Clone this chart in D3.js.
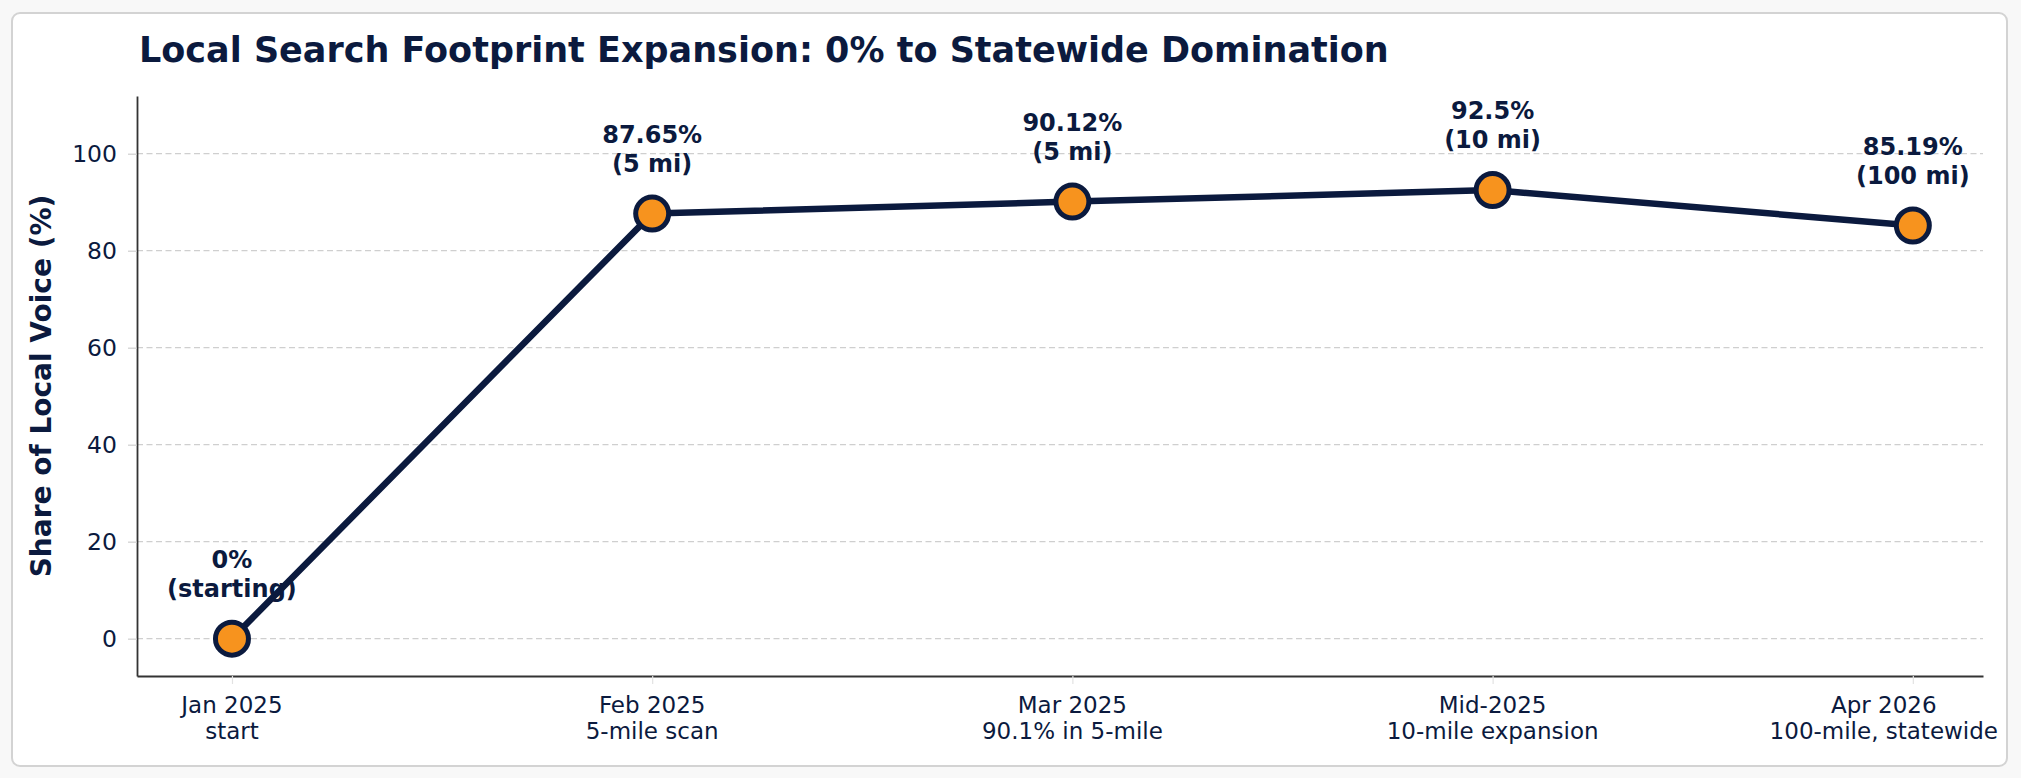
<!DOCTYPE html>
<html>
<head>
<meta charset="utf-8">
<script src="https://cdn.jsdelivr.net/npm/d3@7"></script>
<style>
body { margin: 0; background: #f8f8f8; }
text { font-family: "DejaVu Sans", sans-serif; }
</style>
</head>
<body>
<main></main>
<script>
var months = ["Jan 2025", "Feb 2025", "Mar 2025", "Mid-2025", "Apr 2026"];
var notes = ["start", "5-mile scan", "90.1% in 5-mile", "10-mile expansion", "100-mile, statewide"];
var share = [0, 87.65, 90.12, 92.5, 85.19];
var radiusLabel = ["starting", "5 mi", "5 mi", "10 mi", "100 mi"];
var yTicks = [0, 20, 40, 60, 80, 100];

var width = 2021;
var height = 778;
var navy = "#0b1a3e";
var orange = "#f7931e";

var svg = d3.select("main").append("svg")
    .attr("width", width)
    .attr("height", height)
    .style("display", "block");

// card
svg.append("rect")
    .attr("x", 12).attr("y", 13)
    .attr("width", 1995).attr("height", 753)
    .attr("rx", 8)
    .style("fill", "#fff")
    .style("stroke", "#d3d3d3")
    .style("stroke-width", 2);

svg.append("text")
    .attr("x", 139)
    .attr("y", 62)
    .style("font-size", "35px")
    .style("font-weight", "bold")
    .style("fill", navy)
    .text("Local Search Footprint Expansion: 0% to Statewide Domination");

var x = d3.scaleLinear().domain([-0.226, 4.167]).range([137, 1983]);
var y = d3.scaleLinear().domain([-7.7, 111.9]).range([676, 96]);

// grid
svg.append("g")
    .selectAll("line")
    .data(yTicks)
    .enter().append("line")
    .attr("x1", x.range()[0])
    .attr("x2", x.range()[1])
    .attr("y1", function(d) { return y(d); })
    .attr("y2", function(d) { return y(d); })
    .style("stroke", "#cfcfcf")
    .style("stroke-width", 1.2)
    .style("stroke-dasharray", "6,3.5");

var yAxis = svg.append("g")
    .attr("transform", "translate(137,0)")
    .call(d3.axisLeft(y).tickValues(yTicks).tickSize(9).tickSizeOuter(0).tickPadding(11));
yAxis.select(".domain").style("stroke", "#333").style("stroke-width", 1.8);
yAxis.selectAll(".tick line").style("stroke", "#cfcfcf").style("stroke-width", 1.2);
yAxis.selectAll(".tick text")
    .style("font-size", "23.5px")
    .style("font-family", "DejaVu Sans")
    .style("fill", navy);

var xAxis = svg.append("g")
    .attr("transform", "translate(0,676)")
    .call(d3.axisBottom(x).tickValues(d3.range(months.length)).tickFormat("").tickSize(8).tickSizeOuter(0));
xAxis.select(".domain").style("stroke", "#333").style("stroke-width", 1.8);
xAxis.selectAll(".tick line").style("stroke", "#e2e2e2").style("stroke-width", 1.2);

// two-line x tick labels, kept inside the card on the right
var maxRight = 1998;
months.forEach(function(m, i) {
    var t = svg.append("text")
        .attr("text-anchor", "middle")
        .style("font-size", "23px")
        .style("fill", navy);
    t.append("tspan").attr("x", x(i)).attr("y", 713).text(m);
    t.append("tspan").attr("x", x(i)).attr("y", 739).text(notes[i]);
    var bb = t.node().getBBox();
    if (bb.x + bb.width > maxRight) {
        t.attr("transform", "translate(" + (maxRight - bb.x - bb.width) + ",0)");
    }
});

svg.append("text")
    .attr("transform", "translate(51," + (y.range()[0] + y.range()[1]) / 2 + ") rotate(-90)")
    .attr("text-anchor", "middle")
    .style("font-size", "28px")
    .style("font-weight", "bold")
    .style("fill", navy)
    .text("Share of Local Voice (%)");

var line = d3.line()
    .x(function(d, i) { return x(i); })
    .y(function(d) { return y(d); });

svg.append("path")
    .datum(share)
    .attr("d", line)
    .style("fill", "none")
    .style("stroke", navy)
    .style("stroke-width", 6.5)
    .style("stroke-linejoin", "round");

svg.selectAll(".dot")
    .data(share)
    .enter().append("circle")
    .attr("class", "dot")
    .attr("cx", function(d, i) { return x(i); })
    .attr("cy", function(d) { return y(d); })
    .attr("r", 16.5)
    .style("fill", orange)
    .style("stroke", navy)
    .style("stroke-width", 5);

var labels = svg.selectAll(".lbl")
    .data(share)
    .enter().append("text")
    .attr("class", "lbl")
    .attr("text-anchor", "middle")
    .style("font-size", "24px")
    .style("font-weight", "bold")
    .style("fill", navy);

labels.append("tspan")
    .attr("x", function(d, i) { return x(i); })
    .attr("y", function(d) { return y(d) - 71; })
    .text(function(d) { return d + "%"; });

labels.append("tspan")
    .attr("x", function(d, i) { return x(i); })
    .attr("y", function(d) { return y(d) - 42; })
    .text(function(d, i) { return "(" + radiusLabel[i] + ")"; });
</script>
</body>
</html>
